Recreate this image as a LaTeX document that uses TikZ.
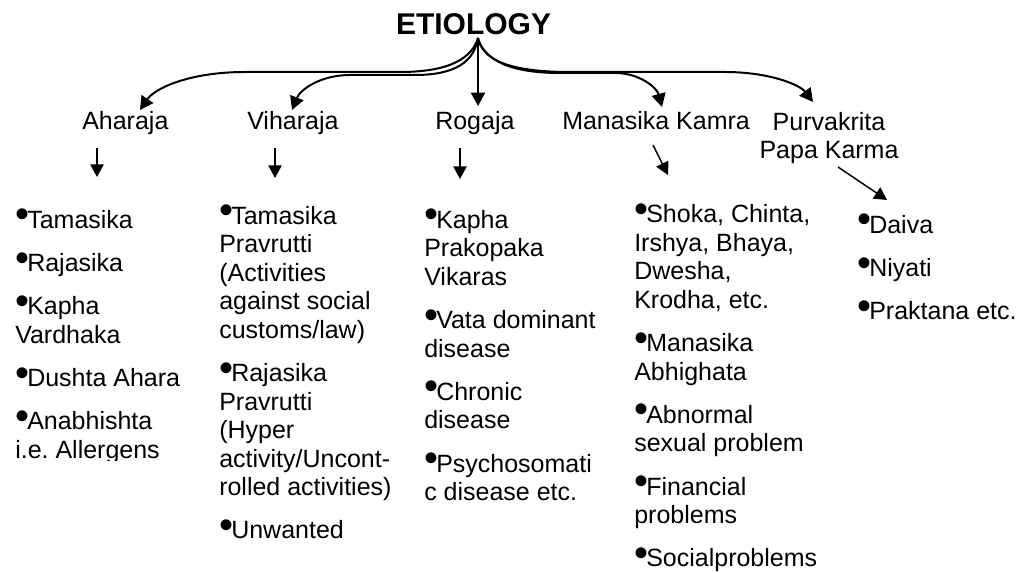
\documentclass[tikz,border=0pt]{standalone}
\usepackage{fontspec}
\setmainfont{Liberation Sans}
\usetikzlibrary{arrows.meta}
% raised list bullet and first-line strut
\newcommand\bul{\raisebox{0.3pt}{\makebox[9pt][l]{\fontsize{30pt}{30pt}\selectfont •}}}
\newcommand\fs{\rule{0pt}{16pt}}
\frenchspacing
\begin{document}
\begin{tikzpicture}[x=0.75pt,y=-0.75pt,
  lbl/.style={inner sep=0pt, anchor=base west, font=\fontsize{18.75pt}{21.4pt}\selectfont},
  col/.style={inner sep=0pt, anchor=north west, align=left, font=\fontsize{18.75pt}{21.4pt}\selectfont},
  fan/.style={line width=1.5pt, -{Triangle[width=10.5pt,length=10pt]}},
  short/.style={line width=1.1pt, -{Triangle[width=10pt,length=9.5pt]}}]
\useasboundingbox (0,0) rectangle (1024,573);

% title
\node[anchor=base, inner sep=0pt, font=\fontsize{22.5pt}{27pt}\selectfont\bfseries] (title) at (473.5,35) {ETIOLOGY};
\coordinate (O) at ([shift={(4.5,3)}]title.base);

% categories
\node[lbl] (aharaja) at (82,130) {Aharaja};
\node[lbl] (viharaja) at (247,130) {Viharaja};
\node[lbl] (rogaja) at (435,130) {Rogaja};
\node[lbl] (manasika) at (562,130) {Manasika Kamra};
\node[col, anchor=north, align=center] (purva) at (829,108.7) {\fs Purvakrita\\Papa Karma};

% lists of causes
\begin{scope}
\clip (0,0) rectangle (1024,460);
\node[col] (c1) at (15,206.7) {\fs\bul Tamasika\\[11pt]\bul Rajasika\\[11pt]\bul Kapha\\Vardhaka\\[11pt]\bul Dushta Ahara\\[11pt]\bul Anabhishta\\i.e. Allergens};
\end{scope}
\node[col] (c2) at (219,202.7) {\fs\bul Tamasika\\Pravrutti\\(Activities\\against social\\customs/law)\\[11pt]\bul Rajasika\\Pravrutti\\(Hyper\\activity/Uncont-\\rolled activities)\\[11pt]\bul Unwanted};
\node[col] (c3) at (424,206.7) {\fs\bul Kapha\\Prakopaka\\Vikaras\\[11pt]\bul Vata dominant\\disease\\[11pt]\bul Chronic\\disease\\[11pt]\bul Psychosomati\\c disease etc.};
\node[col] (c4) at (634,201.2) {\fs\bul Shoka, Chinta,\\Irshya, Bhaya,\\Dwesha,\\Krodha, etc.\\[11pt]\bul Manasika\\Abhighata\\[11pt]\bul Abnormal\\sexual problem\\[11pt]\bul Financial\\problems\\[11pt]\bul Socialproblems};
\node[col] (c5) at (857,211.7) {\fs\bul Daiva\\[11pt]\bul Niyati\\[11pt]\bul Praktana etc.};

% branches from the title
\draw[fan] (O) .. controls (472,58) and (450,72) .. (400,72) -- (245,72)
  .. controls (190,72) and (155,88) .. ([shift={(58,-20)}]aharaja.base west);
\draw[fan] (O) .. controls (474,62) and (455,75) .. (415,75) -- (350,75)
  .. controls (320,75) and (300,90) .. ([shift={(45,-20)}]viharaja.base west);
\draw[fan] (O) -- ([shift={(43,-24)}]rogaja.base west);
\draw[fan] (O) .. controls (484,60) and (510,73) .. (560,73) -- (615,73)
  .. controls (640,73) and (657,88) .. ([shift={(100,-23)}]manasika.base west);
\draw[fan] (O) .. controls (482,58) and (505,72) .. (570,72) -- (725,72)
  .. controls (770,72) and (800,85) .. ([shift={(-16,-6.7)}]purva.north);

% short arrows to the lists
\draw[short] ([shift={(15,18)}]aharaja.base west) -- ([shift={(82,-29.7)}]c1.north west);
\draw[short] ([shift={(28,18)}]viharaja.base west) -- ([shift={(56,-24.7)}]c2.north west);
\draw[short] ([shift={(25,18)}]rogaja.base west) -- ([shift={(36,-27.7)}]c3.north west);
\draw[short] ([shift={(91,15)}]manasika.base west) -- ([shift={(34,-26.2)}]c4.north west);
\draw[short] ([shift={(9,58.3)}]purva.north) -- ([shift={(30,-11.7)}]c5.north west);
\end{tikzpicture}
\end{document}
